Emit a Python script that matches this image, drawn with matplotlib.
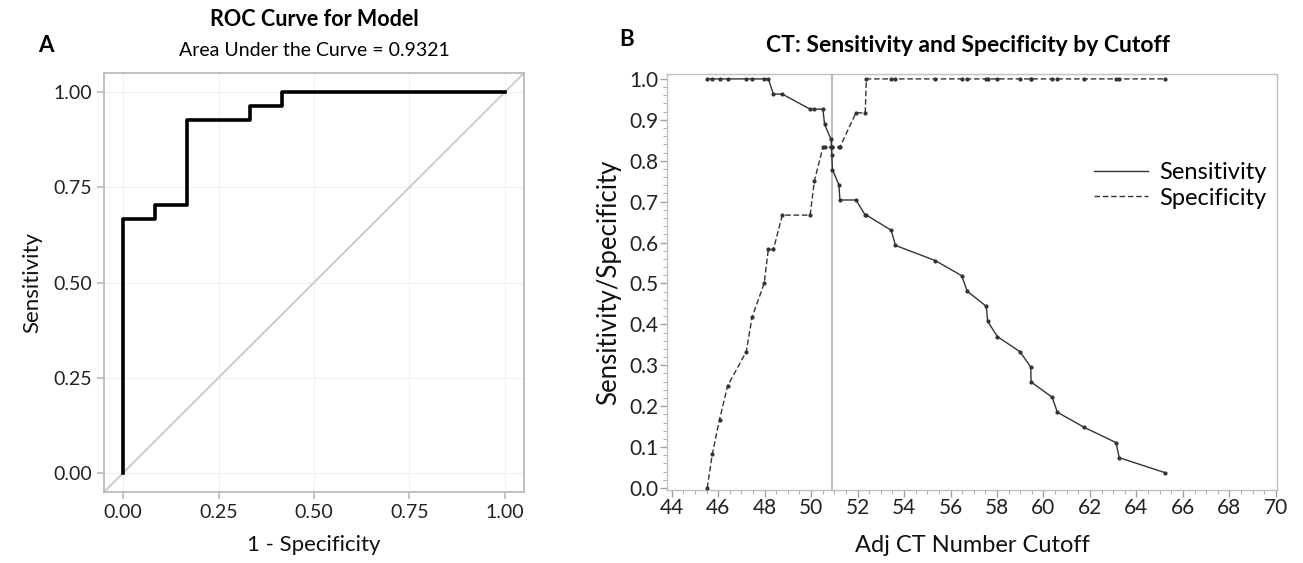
import matplotlib
matplotlib.use("Agg")
import matplotlib.pyplot as plt
from matplotlib.ticker import MultipleLocator, FormatStrFormatter

plt.rcParams["font.family"] = ["Lato", "DejaVu Sans"]

# Panel A: ROC curve (steps)
roc_fpr = [0.0, 0.0, 0.083, 0.083, 0.167, 0.167, 0.333, 0.333, 0.417, 0.417, 1.0]
roc_tpr = [0.0, 0.667, 0.667, 0.704, 0.704, 0.926, 0.926, 0.963, 0.963, 1.0, 1.0]
auc_text = "Area Under the Curve = 0.9321"

# Panel B: sensitivity / specificity by cutoff
cutoff = [45.53, 45.75, 46.06, 46.41, 47.21, 47.46, 47.98, 48.16, 48.38, 48.76,
          49.96, 50.14, 50.51, 50.58, 50.86, 50.89, 50.92, 51.20, 51.24, 51.93,
          52.33, 52.38, 53.45, 53.63, 55.34, 56.48, 56.72, 57.54, 57.60, 58.02,
          58.99, 59.45, 59.47, 60.37, 60.60, 61.76, 63.12, 63.26, 65.25]
sensitivity = [1.0, 1.0, 1.0, 1.0, 1.0, 1.0, 1.0, 1.0, 0.963, 0.963,
               0.926, 0.926, 0.926, 0.889, 0.852, 0.815, 0.778, 0.741, 0.704, 0.704,
               0.667, 0.667, 0.630, 0.593, 0.556, 0.519, 0.481, 0.444, 0.407, 0.370,
               0.333, 0.296, 0.259, 0.222, 0.185, 0.148, 0.111, 0.074, 0.037]
specificity = [0.0, 0.083, 0.167, 0.25, 0.333, 0.417, 0.5, 0.583, 0.583, 0.667,
               0.667, 0.75, 0.833, 0.833, 0.833, 0.833, 0.833, 0.833, 0.833, 0.917,
               0.917, 1.0, 1.0, 1.0, 1.0, 1.0, 1.0, 1.0, 1.0, 1.0,
               1.0, 1.0, 1.0, 1.0, 1.0, 1.0, 1.0, 1.0, 1.0]
best_cutoff = 50.92

W, H = 1303, 563
fig = plt.figure(figsize=(W / 100, H / 100), dpi=100)

def box(l, t, r, b):
    return [l / W, 1 - b / H, (r - l) / W, (b - t) / H]

# ---- A ----
ax1 = fig.add_axes(box(104, 73, 524, 492))
ax1.set_xlim(-0.05, 1.05)
ax1.set_ylim(-0.05, 1.05)
ticks = [0, 0.25, 0.5, 0.75, 1.0]
ax1.set_xticks(ticks)
ax1.set_yticks(ticks)
ax1.xaxis.set_major_formatter(FormatStrFormatter("%.2f"))
ax1.yaxis.set_major_formatter(FormatStrFormatter("%.2f"))
ax1.grid(True, color="#f0f0f0", lw=0.8)
ax1.set_axisbelow(True)
ax1.axline((0, 0), (1, 1), color="#c8c8c8", lw=1.3, zorder=1)
ax1.plot(roc_fpr, roc_tpr, color="black", lw=2.6, zorder=3)
for s in ax1.spines.values():
    s.set_color("#b5b5b5")
    s.set_linewidth(1.2)
ax1.tick_params(colors="#b5b5b5", labelcolor="#222222", labelsize=14, length=5, width=1.1)
ax1.set_xlabel("1 - Specificity", fontsize=16, labelpad=10, color="#111111")
ax1.set_ylabel("Sensitivity", fontsize=16, labelpad=8, color="#111111")

fig.text(46 / W, 1 - 45 / H, "A", fontsize=16, fontweight="bold", ha="center", va="center")
fig.text(314 / W, 1 - 20 / H, "ROC Curve for Model", fontsize=15.5, fontweight="bold",
         ha="center", va="center")
fig.text(314 / W, 1 - 50 / H, auc_text, fontsize=14, ha="center", va="center")

# ---- B ----
ax2 = fig.add_axes(box(667, 74, 1277, 490))
ax2.set_xlim(43.8, 70.05)
ax2.set_ylim(-0.005, 1.012)
ax2.xaxis.set_major_locator(MultipleLocator(2))
ax2.xaxis.set_minor_locator(MultipleLocator(0.5))
ax2.yaxis.set_major_locator(MultipleLocator(0.1))
ax2.yaxis.set_minor_locator(MultipleLocator(0.02))
ax2.yaxis.set_major_formatter(FormatStrFormatter("%.1f"))
ax2.axvline(best_cutoff, color="#b0b0b0", lw=1.2, zorder=1)
ax2.plot(cutoff, sensitivity, color="#333333", lw=1.0, marker="o", ms=2,
         label="Sensitivity", zorder=3)
ax2.plot(cutoff, specificity, color="#333333", lw=1.0, ls=(0, (4, 2)), marker="o", ms=2,
         label="Specificity", zorder=3)
for s in ax2.spines.values():
    s.set_color("#c0c0c0")
    s.set_linewidth(1.0)
ax2.tick_params(which="major", colors="#a0a0a0", labelcolor="#222222", labelsize=15,
                length=5, width=1.0, pad=1)
ax2.tick_params(which="minor", colors="#b0b0b0", length=3, width=0.8)
ax2.set_xlabel("Adj CT Number Cutoff", fontsize=17, labelpad=12, color="#111111")
ax2.set_ylabel("Sensitivity/Specificity", fontsize=18.5, labelpad=6, color="#111111")

leg = ax2.legend(loc="upper left", bbox_to_anchor=(0.665, 0.84), frameon=False,
                 fontsize=17, handlelength=2.3, handletextpad=0.45, labelspacing=0.2)
for h in leg.legend_handles:
    h.set_marker("")

fig.text(627 / W, 1 - 40 / H, "B", fontsize=16, fontweight="bold", ha="center", va="center")
fig.text(968 / W, 1 - 45 / H, "CT: Sensitivity and Specificity by Cutoff", fontsize=16.5,
         fontweight="bold", ha="center", va="center")

fig.savefig("out.png", dpi=100)
